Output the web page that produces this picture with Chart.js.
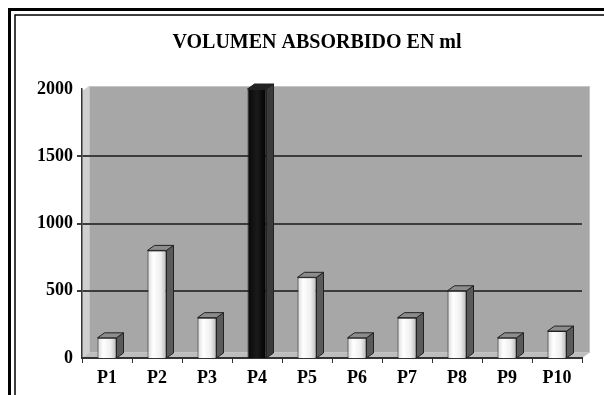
<!DOCTYPE html>
<html>
<head>
<meta charset="utf-8">
<script src="https://cdn.jsdelivr.net/npm/chart.js@4/dist/chart.umd.min.js"></script>
<style>
  html, body { margin: 0; padding: 0; background: #fff; }
  #wrap { width: 604px; height: 395px; }
</style>
</head>
<body>
<div id="wrap"><canvas id="chart"></canvas></div>
<script>
// data
const labels = ['P1', 'P2', 'P3', 'P4', 'P5', 'P6', 'P7', 'P8', 'P9', 'P10'];
const volumen = [150, 800, 300, 2000, 600, 150, 300, 500, 150, 200];
const yTicks = [0, 500, 1000, 1500, 2000];
const titleText = 'VOLUMEN ABSORBIDO EN ml';

const serif = "'Liberation Serif', 'Times New Roman', serif";
const DX = 7, DY = 5; // 3d depth of bars

// double frame + gray wall behind the plot
const backdrop = {
    id: 'backdrop',
    beforeDraw(chart) {
        const c = chart.ctx, a = chart.chartArea;
        c.save();
        c.fillStyle = '#fff';
        c.fillRect(0, 0, chart.width, chart.height);
        c.strokeStyle = '#000';
        c.lineWidth = 3;
        c.strokeRect(9.5, 9.5, 700, 500);
        c.lineWidth = 1.5;
        c.strokeRect(15, 15, 700, 500);
        // side wall
        c.fillStyle = '#cfcfcf';
        c.beginPath();
        c.moveTo(a.left, a.top + 2);
        c.lineTo(a.left + DX, a.top - 3);
        c.lineTo(a.left + DX, a.bottom - 5);
        c.lineTo(a.left, a.bottom);
        c.closePath();
        c.fill();
        // back wall
        c.fillStyle = '#a7a7a7';
        c.fillRect(a.left + DX, a.top - 3, a.right - a.left, a.bottom - a.top - 2);
        c.strokeStyle = '#c4c4c4';
        c.lineWidth = 1;
        c.strokeRect(a.left + DX + 0.5, a.top - 2.5, a.right - a.left, a.bottom - a.top - 3);
        // floor
        c.fillStyle = '#bdbdbd';
        c.beginPath();
        c.moveTo(a.left, a.bottom);
        c.lineTo(a.left + DX, a.bottom - 5);
        c.lineTo(a.right + DX, a.bottom - 5);
        c.lineTo(a.right, a.bottom);
        c.closePath();
        c.fill();
        c.restore();
    }
};

// side and top faces of the bars
const bars3d = {
    id: 'bars3d',
    afterDatasetsDraw(chart) {
        const c = chart.ctx;
        chart.getDatasetMeta(0).data.forEach((bar, i) => {
            const p = bar.getProps(['x', 'y', 'base', 'width'], true);
            const l = p.x - p.width / 2, r = p.x + p.width / 2;
            const dark = i === 3;
            c.save();
            c.strokeStyle = '#222';
            c.lineWidth = 1;
            c.fillStyle = dark ? '#3a3a3a' : '#5a5a5a';
            c.beginPath();
            c.moveTo(r, p.y);
            c.lineTo(r + DX, p.y - DY);
            c.lineTo(r + DX, p.base - DY);
            c.lineTo(r, p.base);
            c.closePath();
            c.fill();
            c.stroke();
            c.fillStyle = dark ? '#222' : '#8c8c8c';
            c.beginPath();
            c.moveTo(l, p.y);
            c.lineTo(l + DX, p.y - DY);
            c.lineTo(r + DX, p.y - DY);
            c.lineTo(r, p.y);
            c.closePath();
            c.fill();
            c.stroke();
            c.restore();
        });
    }
};

function barFill(ctx) {
    const chart = ctx.chart;
    const x = chart.scales.x;
    if (!x || !chart.chartArea) return '#eee';
    const cx = x.getPixelForValue(ctx.dataIndex);
    const w = 19;
    const g = chart.ctx.createLinearGradient(cx - w / 2, 0, cx + w / 2, 0);
    if (ctx.dataIndex === 3) {
        g.addColorStop(0, '#080808');
        g.addColorStop(0.5, '#1a1a1a');
        g.addColorStop(1, '#000');
    } else {
        g.addColorStop(0, '#d8d8d8');
        g.addColorStop(0.3, '#ffffff');
        g.addColorStop(0.7, '#eeeeee');
        g.addColorStop(1, '#b8b8b8');
    }
    return g;
}

new Chart(document.getElementById('chart'), {
    type: 'bar',
    data: {
        labels: labels,
        datasets: [{
            data: volumen,
            backgroundColor: barFill,
            borderColor: '#222',
            borderWidth: 1,
            barPercentage: 0.38,
            categoryPercentage: 1
        }]
    },
    plugins: [backdrop, bars3d],
    options: {
        responsive: true,
        maintainAspectRatio: false,
        animation: false,
        layout: { padding: { left: 30, right: 0, top: 0, bottom: 0 } },
        plugins: {
            legend: { display: false },
            tooltip: { enabled: false },
            title: {
                display: true,
                text: titleText,
                color: '#000',
                font: { family: serif, size: 20, weight: 'bold' },
                padding: { top: 31, bottom: 34 }
            }
        },
        scales: {
            x: {
                offset: true,
                grid: { display: true, drawOnChartArea: false, offset: true, tickLength: 5, color: '#333' },
                border: { display: true, color: '#333', width: 2 },
                ticks: { color: '#000', padding: 5, font: { family: serif, size: 18, weight: 'bold' } },
                afterFit(s) { s.height = 37; }
            },
            y: {
                min: 0,
                max: 2000,
                afterBuildTicks(s) { s.ticks = yTicks.map(v => ({ value: v })); },
                grid: {
                    tickLength: 5,
                    color: '#3c3c3c',
                    lineWidth: c => (c.tick && (c.tick.value === 0 || c.tick.value === 2000)) ? 0 : 2
                },
                border: { display: true, color: '#333', width: 1.5 },
                ticks: {
                    color: '#000', padding: 4,
                    font: { family: serif, size: 18, weight: 'bold' },
                    callback: v => String(v)
                },
                afterFit(s) { s.width = 52; }
            },
            // empty right axis, only keeps the plot clear of the right edge
            yr: {
                position: 'right',
                display: true,
                grid: { display: false },
                border: { display: false },
                ticks: { display: false },
                afterFit(s) { s.width = 22; }
            }
        }
    }
});
</script>
</body>
</html>
